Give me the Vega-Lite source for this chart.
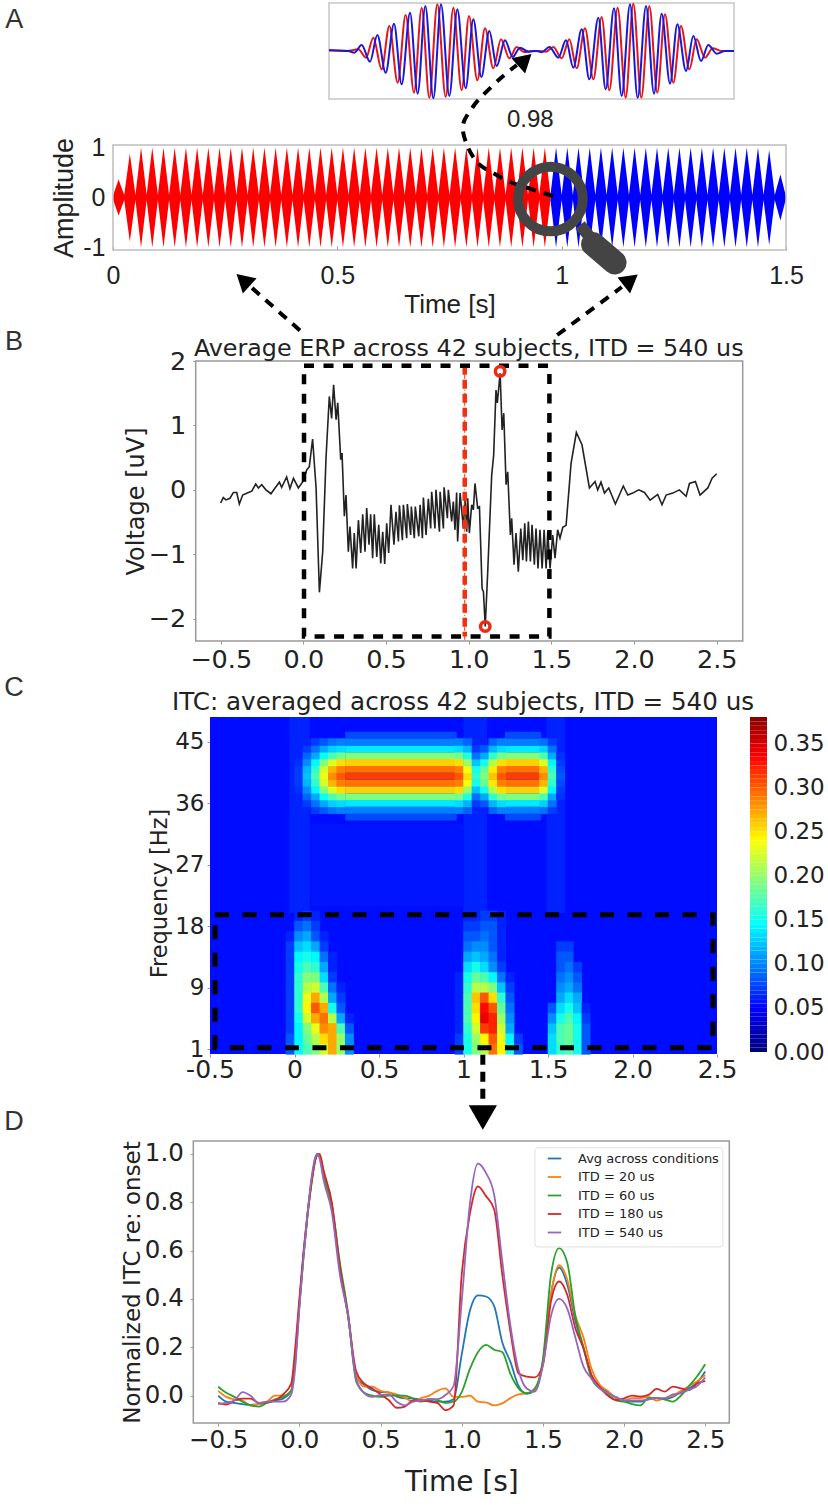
{"$schema":"https://vega.github.io/schema/vega-lite/v6.json","width":828,"height":1508,"autosize":{"type":"none"},"padding":0,"background":"white",
"config":{"view":{"stroke":null},"axis":{"grid":false,"domain":false,"labelFont":"DejaVu Sans","labelFontSize":22.5,"titleFont":"DejaVu Sans","titleFontSize":23,"titleFontWeight":"normal","labelColor":"#222","titleColor":"#222","tickColor":"#999","tickSize":3,"labelPadding":3,"labelOverlap":false,"labelFlush":false}},
"datasets":{
"insetRed":[{"t":27,"v":2},{"t":80,"v":0},{"t":115,"v":5},{"t":138,"v":-20},{"t":160,"v":40},{"t":185,"v":-55},{"t":208,"v":75},{"t":233,"v":-95},{"t":257,"v":108},{"t":282,"v":-125},{"t":305,"v":130},{"t":328,"v":-140},{"t":352,"v":140},{"t":377,"v":-138},{"t":400,"v":130},{"t":425,"v":-118},{"t":447,"v":105},{"t":472,"v":-88},{"t":495,"v":68},{"t":520,"v":-52},{"t":543,"v":35},{"t":568,"v":-22},{"t":590,"v":12},{"t":612,"v":-3},{"t":640,"v":0},{"t":655,"v":0},{"t":678,"v":-2},{"t":700,"v":12},{"t":725,"v":-22},{"t":748,"v":35},{"t":770,"v":-52},{"t":795,"v":68},{"t":820,"v":-85},{"t":845,"v":102},{"t":868,"v":-118},{"t":893,"v":130},{"t":917,"v":-140},{"t":940,"v":142},{"t":964,"v":-140},{"t":988,"v":135},{"t":1012,"v":-125},{"t":1035,"v":110},{"t":1060,"v":-95},{"t":1083,"v":75},{"t":1108,"v":-55},{"t":1130,"v":35},{"t":1155,"v":-20},{"t":1178,"v":8},{"t":1205,"v":0},{"t":1242,"v":0}],
"insetBlue":[{"t":27,"v":2},{"t":85,"v":0},{"t":103,"v":-5},{"t":125,"v":18},{"t":150,"v":-32},{"t":172,"v":48},{"t":197,"v":-65},{"t":222,"v":82},{"t":245,"v":-100},{"t":270,"v":115},{"t":293,"v":-128},{"t":316,"v":135},{"t":340,"v":-142},{"t":363,"v":140},{"t":388,"v":-135},{"t":412,"v":125},{"t":437,"v":-112},{"t":460,"v":95},{"t":484,"v":-78},{"t":508,"v":60},{"t":530,"v":-45},{"t":555,"v":32},{"t":578,"v":-18},{"t":600,"v":10},{"t":625,"v":-2},{"t":650,"v":0},{"t":665,"v":-4},{"t":688,"v":12},{"t":715,"v":-20},{"t":738,"v":32},{"t":760,"v":-50},{"t":785,"v":65},{"t":808,"v":-85},{"t":835,"v":100},{"t":857,"v":-115},{"t":882,"v":128},{"t":905,"v":-135},{"t":930,"v":140},{"t":953,"v":-140},{"t":978,"v":135},{"t":1002,"v":-128},{"t":1025,"v":112},{"t":1050,"v":-98},{"t":1072,"v":80},{"t":1098,"v":-60},{"t":1120,"v":45},{"t":1143,"v":-30},{"t":1165,"v":18},{"t":1190,"v":-8},{"t":1215,"v":0},{"t":1242,"v":0}],
"waveRed":[{"t":0,"v":0.04,"v2":-0.04},{"t":0.0125,"v":0.36,"v2":-0.36},{"t":0.025,"v":0.05,"v2":-0.05},{"t":0.0375,"v":0.88,"v2":-0.88},{"t":0.05,"v":0.05,"v2":-0.05},{"t":0.0625,"v":1,"v2":-1},{"t":0.075,"v":0.05,"v2":-0.05},{"t":0.0875,"v":1,"v2":-1},{"t":0.1,"v":0.05,"v2":-0.05},{"t":0.1125,"v":1,"v2":-1},{"t":0.125,"v":0.05,"v2":-0.05},{"t":0.1375,"v":1,"v2":-1},{"t":0.15,"v":0.05,"v2":-0.05},{"t":0.1625,"v":1,"v2":-1},{"t":0.175,"v":0.05,"v2":-0.05},{"t":0.1875,"v":1,"v2":-1},{"t":0.2,"v":0.05,"v2":-0.05},{"t":0.2125,"v":1,"v2":-1},{"t":0.225,"v":0.05,"v2":-0.05},{"t":0.2375,"v":1,"v2":-1},{"t":0.25,"v":0.05,"v2":-0.05},{"t":0.2625,"v":1,"v2":-1},{"t":0.275,"v":0.05,"v2":-0.05},{"t":0.2875,"v":1,"v2":-1},{"t":0.3,"v":0.05,"v2":-0.05},{"t":0.3125,"v":1,"v2":-1},{"t":0.325,"v":0.05,"v2":-0.05},{"t":0.3375,"v":1,"v2":-1},{"t":0.35,"v":0.05,"v2":-0.05},{"t":0.3625,"v":1,"v2":-1},{"t":0.375,"v":0.05,"v2":-0.05},{"t":0.3875,"v":1,"v2":-1},{"t":0.4,"v":0.05,"v2":-0.05},{"t":0.4125,"v":1,"v2":-1},{"t":0.425,"v":0.05,"v2":-0.05},{"t":0.4375,"v":1,"v2":-1},{"t":0.45,"v":0.05,"v2":-0.05},{"t":0.4625,"v":1,"v2":-1},{"t":0.475,"v":0.05,"v2":-0.05},{"t":0.4875,"v":1,"v2":-1},{"t":0.5,"v":0.05,"v2":-0.05},{"t":0.5125,"v":1,"v2":-1},{"t":0.525,"v":0.05,"v2":-0.05},{"t":0.5375,"v":1,"v2":-1},{"t":0.55,"v":0.05,"v2":-0.05},{"t":0.5625,"v":1,"v2":-1},{"t":0.575,"v":0.05,"v2":-0.05},{"t":0.5875,"v":1,"v2":-1},{"t":0.6,"v":0.05,"v2":-0.05},{"t":0.6125,"v":1,"v2":-1},{"t":0.625,"v":0.05,"v2":-0.05},{"t":0.6375,"v":1,"v2":-1},{"t":0.65,"v":0.05,"v2":-0.05},{"t":0.6625,"v":1,"v2":-1},{"t":0.675,"v":0.05,"v2":-0.05},{"t":0.6875,"v":1,"v2":-1},{"t":0.7,"v":0.05,"v2":-0.05},{"t":0.7125,"v":1,"v2":-1},{"t":0.725,"v":0.05,"v2":-0.05},{"t":0.7375,"v":1,"v2":-1},{"t":0.75,"v":0.05,"v2":-0.05},{"t":0.7625,"v":1,"v2":-1},{"t":0.775,"v":0.05,"v2":-0.05},{"t":0.7875,"v":1,"v2":-1},{"t":0.8,"v":0.05,"v2":-0.05},{"t":0.8125,"v":1,"v2":-1},{"t":0.825,"v":0.05,"v2":-0.05},{"t":0.8375,"v":1,"v2":-1},{"t":0.85,"v":0.05,"v2":-0.05},{"t":0.8625,"v":1,"v2":-1},{"t":0.875,"v":0.05,"v2":-0.05},{"t":0.8875,"v":1,"v2":-1},{"t":0.9,"v":0.05,"v2":-0.05},{"t":0.9125,"v":1,"v2":-1},{"t":0.925,"v":0.05,"v2":-0.05},{"t":0.9375,"v":1,"v2":-1},{"t":0.95,"v":0.05,"v2":-0.05},{"t":0.9625,"v":1,"v2":-1},{"t":0.975,"v":0.05,"v2":-0.05}],
"waveBlue":[{"t":0.975,"v":0.05,"v2":-0.05},{"t":0.9875,"v":1,"v2":-1},{"t":1,"v":0.05,"v2":-0.05},{"t":1.0125,"v":1,"v2":-1},{"t":1.025,"v":0.05,"v2":-0.05},{"t":1.0375,"v":1,"v2":-1},{"t":1.05,"v":0.05,"v2":-0.05},{"t":1.0625,"v":1,"v2":-1},{"t":1.075,"v":0.05,"v2":-0.05},{"t":1.0875,"v":1,"v2":-1},{"t":1.1,"v":0.05,"v2":-0.05},{"t":1.1125,"v":1,"v2":-1},{"t":1.125,"v":0.05,"v2":-0.05},{"t":1.1375,"v":1,"v2":-1},{"t":1.15,"v":0.05,"v2":-0.05},{"t":1.1625,"v":1,"v2":-1},{"t":1.175,"v":0.05,"v2":-0.05},{"t":1.1875,"v":1,"v2":-1},{"t":1.2,"v":0.05,"v2":-0.05},{"t":1.2125,"v":1,"v2":-1},{"t":1.225,"v":0.05,"v2":-0.05},{"t":1.2375,"v":1,"v2":-1},{"t":1.25,"v":0.05,"v2":-0.05},{"t":1.2625,"v":1,"v2":-1},{"t":1.275,"v":0.05,"v2":-0.05},{"t":1.2875,"v":1,"v2":-1},{"t":1.3,"v":0.05,"v2":-0.05},{"t":1.3125,"v":1,"v2":-1},{"t":1.325,"v":0.05,"v2":-0.05},{"t":1.3375,"v":1,"v2":-1},{"t":1.35,"v":0.05,"v2":-0.05},{"t":1.3625,"v":1,"v2":-1},{"t":1.375,"v":0.05,"v2":-0.05},{"t":1.3875,"v":1,"v2":-1},{"t":1.4,"v":0.05,"v2":-0.05},{"t":1.4125,"v":1,"v2":-1},{"t":1.425,"v":0.05,"v2":-0.05},{"t":1.4375,"v":1,"v2":-1},{"t":1.45,"v":0.05,"v2":-0.05},{"t":1.4625,"v":0.95,"v2":-0.95},{"t":1.475,"v":0.05,"v2":-0.05},{"t":1.4875,"v":0.46,"v2":-0.46},{"t":1.5,"v":0.02,"v2":-0.02}],
"erp":[{"t":-0.5,"v":-0.2},{"t":-0.484,"v":-0.12},{"t":-0.468,"v":-0.155},{"t":-0.444,"v":-0.13},{"t":-0.423,"v":-0.04},{"t":-0.403,"v":-0.04},{"t":-0.387,"v":-0.22},{"t":-0.367,"v":-0.08},{"t":-0.339,"v":-0.05},{"t":-0.312,"v":-0.02},{"t":-0.288,"v":0.09},{"t":-0.272,"v":0.03},{"t":-0.252,"v":0.08},{"t":-0.226,"v":0},{"t":-0.196,"v":-0.06},{"t":-0.171,"v":0.03},{"t":-0.145,"v":0.12},{"t":-0.131,"v":0.04},{"t":-0.101,"v":0.2},{"t":-0.081,"v":0.02},{"t":-0.06,"v":0.18},{"t":-0.03,"v":0.03},{"t":0,"v":0.14},{"t":0.02,"v":0.31},{"t":0.036,"v":0.36},{"t":0.056,"v":0.79},{"t":0.077,"v":0.03},{"t":0.097,"v":-1.59},{"t":0.117,"v":-0.96},{"t":0.137,"v":0.49},{"t":0.157,"v":1.45},{"t":0.171,"v":1.11},{"t":0.183,"v":1.63},{"t":0.198,"v":1.09},{"t":0.208,"v":1.35},{"t":0.226,"v":0.47},{"t":0.234,"v":0.57},{"t":0.248,"v":-0.41},{"t":0.258,"v":-0.08},{"t":0.272,"v":-0.96},{"t":0.282,"v":-0.57},{"t":0.298,"v":-1.22},{"t":0.308,"v":-0.67},{"t":0.319,"v":-1.22},{"t":0.333,"v":-0.47},{"t":0.347,"v":-0.98},{"t":0.359,"v":-0.38},{"t":0.373,"v":-0.96},{"t":0.383,"v":-0.28},{"t":0.397,"v":-0.85},{"t":0.407,"v":-0.38},{"t":0.419,"v":-1.06},{"t":0.429,"v":-0.38},{"t":0.444,"v":-1.04},{"t":0.456,"v":-0.54},{"t":0.468,"v":-1.14},{"t":0.48,"v":-0.65},{"t":0.492,"v":-1.15},{"t":0.504,"v":-0.52},{"t":0.516,"v":-0.98},{"t":0.53,"v":-0.23},{"t":0.548,"v":-0.85},{"t":0.56,"v":-0.34},{"t":0.575,"v":-0.8},{"t":0.581,"v":-0.24},{"t":0.599,"v":-0.78},{"t":0.605,"v":-0.23},{"t":0.625,"v":-0.75},{"t":0.629,"v":-0.22},{"t":0.649,"v":-0.7},{"t":0.653,"v":-0.26},{"t":0.671,"v":-0.75},{"t":0.677,"v":-0.26},{"t":0.698,"v":-0.72},{"t":0.706,"v":-0.23},{"t":0.72,"v":-0.75},{"t":0.726,"v":-0.12},{"t":0.742,"v":-0.7},{"t":0.756,"v":-0.14},{"t":0.77,"v":-0.6},{"t":0.776,"v":-0.03},{"t":0.796,"v":-0.6},{"t":0.802,"v":0},{"t":0.823,"v":-0.65},{"t":0.827,"v":-0.03},{"t":0.847,"v":-0.6},{"t":0.851,"v":0.04},{"t":0.871,"v":-0.44},{"t":0.877,"v":0},{"t":0.897,"v":-0.49},{"t":0.907,"v":-0.18},{"t":0.917,"v":-0.62},{"t":0.927,"v":-0.04},{"t":0.933,"v":-0.8},{"t":0.948,"v":-0.05},{"t":0.968,"v":-0.6},{"t":0.978,"v":-0.1},{"t":0.988,"v":-0.65},{"t":0.994,"v":-0.13},{"t":1.004,"v":-0.67},{"t":1.018,"v":-0.23},{"t":1.028,"v":-0.31},{"t":1.038,"v":0.1},{"t":1.054,"v":-0.28},{"t":1.065,"v":-0.26},{"t":1.081,"v":-1.53},{"t":1.089,"v":-1.58},{"t":1.1,"v":-2.12},{"t":1.115,"v":-1.27},{"t":1.139,"v":0.23},{"t":1.151,"v":0.54},{"t":1.165,"v":1.55},{"t":1.173,"v":1.35},{"t":1.19,"v":1.81},{"t":1.202,"v":0.93},{"t":1.212,"v":1.19},{"t":1.226,"v":0.08},{"t":1.236,"v":0.28},{"t":1.252,"v":-0.7},{"t":1.26,"v":-0.44},{"t":1.274,"v":-1.16},{"t":1.286,"v":-0.67},{"t":1.3,"v":-1.27},{"t":1.315,"v":-0.6},{"t":1.327,"v":-1.09},{"t":1.339,"v":-0.52},{"t":1.349,"v":-1.11},{"t":1.361,"v":-0.49},{"t":1.373,"v":-1.11},{"t":1.383,"v":-0.54},{"t":1.397,"v":-1.16},{"t":1.407,"v":-0.6},{"t":1.419,"v":-1.22},{"t":1.431,"v":-0.62},{"t":1.444,"v":-1.22},{"t":1.456,"v":-0.62},{"t":1.468,"v":-1.22},{"t":1.478,"v":-0.65},{"t":1.492,"v":-1.22},{"t":1.508,"v":-0.7},{"t":1.522,"v":-1.06},{"t":1.538,"v":-0.62},{"t":1.552,"v":-0.75},{"t":1.569,"v":-0.58},{"t":1.589,"v":-0.55},{"t":1.619,"v":0.41},{"t":1.651,"v":0.89},{"t":1.685,"v":0.7},{"t":1.73,"v":0.03},{"t":1.764,"v":0.13},{"t":1.78,"v":0},{"t":1.8,"v":0.12},{"t":1.821,"v":-0.05},{"t":1.847,"v":0.03},{"t":1.887,"v":-0.22},{"t":1.935,"v":0.06},{"t":1.962,"v":-0.08},{"t":1.992,"v":-0.05},{"t":2.028,"v":0},{"t":2.063,"v":-0.04},{"t":2.097,"v":-0.16},{"t":2.143,"v":-0.07},{"t":2.169,"v":-0.23},{"t":2.194,"v":-0.08},{"t":2.234,"v":-0.05},{"t":2.274,"v":0},{"t":2.315,"v":-0.1},{"t":2.335,"v":0.1},{"t":2.371,"v":0.13},{"t":2.399,"v":-0.08},{"t":2.446,"v":0.03},{"t":2.472,"v":0.18},{"t":2.5,"v":0.25}],
"heatStrips":[{"t":-0.5,"t2":2.5,"f":-0.7,"f2":48.66,"c":0.052},{"t":-0.03,"t2":0.09,"f":20,"f2":48.66,"c":0.06},{"t":1,"t2":1.14,"f":20,"f2":48.66,"c":0.06},{"t":1.49,"t2":1.6,"f":20,"f2":48.66,"c":0.06},{"t":0.1,"t2":1,"f":21,"f2":33,"c":0.055},{"t":0.3,"t2":0.96,"f":33.5,"f2":34.5,"c":0.075},{"t":0.3,"t2":0.96,"f":34.5,"f2":35.5,"c":0.095},{"t":0.3,"t2":0.96,"f":35.5,"f2":36.5,"c":0.135},{"t":0.3,"t2":0.96,"f":36.5,"f2":37.5,"c":0.19},{"t":0.3,"t2":0.96,"f":37.5,"f2":38.5,"c":0.255},{"t":0.3,"t2":0.96,"f":38.5,"f2":39.5,"c":0.29},{"t":0.3,"t2":0.96,"f":39.5,"f2":40.5,"c":0.31},{"t":0.3,"t2":0.96,"f":40.5,"f2":41.5,"c":0.29},{"t":0.3,"t2":0.96,"f":41.5,"f2":42.5,"c":0.255},{"t":0.3,"t2":0.96,"f":42.5,"f2":43.5,"c":0.19},{"t":0.3,"t2":0.96,"f":43.5,"f2":44.5,"c":0.135},{"t":0.3,"t2":0.96,"f":44.5,"f2":45.5,"c":0.095},{"t":0.3,"t2":0.96,"f":45.5,"f2":46.5,"c":0.075},{"t":1.245,"t2":1.46,"f":33.5,"f2":34.5,"c":0.075},{"t":1.245,"t2":1.46,"f":34.5,"f2":35.5,"c":0.095},{"t":1.245,"t2":1.46,"f":35.5,"f2":36.5,"c":0.135},{"t":1.245,"t2":1.46,"f":36.5,"f2":37.5,"c":0.19},{"t":1.245,"t2":1.46,"f":37.5,"f2":38.5,"c":0.255},{"t":1.245,"t2":1.46,"f":38.5,"f2":39.5,"c":0.29},{"t":1.245,"t2":1.46,"f":39.5,"f2":40.5,"c":0.31},{"t":1.245,"t2":1.46,"f":40.5,"f2":41.5,"c":0.29},{"t":1.245,"t2":1.46,"f":41.5,"f2":42.5,"c":0.255},{"t":1.245,"t2":1.46,"f":42.5,"f2":43.5,"c":0.19},{"t":1.245,"t2":1.46,"f":43.5,"f2":44.5,"c":0.135},{"t":1.245,"t2":1.46,"f":44.5,"f2":45.5,"c":0.095},{"t":1.245,"t2":1.46,"f":45.5,"f2":46.5,"c":0.075}],
"bandCells":[{"t":0.025,"f":37,"c":0.06},{"t":0.025,"f":38,"c":0.065},{"t":0.025,"f":39,"c":0.07},{"t":0.025,"f":40,"c":0.07},{"t":0.025,"f":41,"c":0.07},{"t":0.025,"f":42,"c":0.065},{"t":0.025,"f":43,"c":0.06},
{"t":0.075,"f":35,"c":0.06},{"t":0.075,"f":36,"c":0.07},{"t":0.075,"f":37,"c":0.085},{"t":0.075,"f":38,"c":0.1},{"t":0.075,"f":39,"c":0.115},{"t":0.075,"f":40,"c":0.12},{"t":0.075,"f":41,"c":0.115},{"t":0.075,"f":42,"c":0.1},{"t":0.075,"f":43,"c":0.085},{"t":0.075,"f":44,"c":0.07},{"t":0.075,"f":45,"c":0.06},
{"t":0.125,"f":35,"c":0.07},{"t":0.125,"f":36,"c":0.09},{"t":0.125,"f":37,"c":0.11},{"t":0.125,"f":38,"c":0.14},{"t":0.125,"f":39,"c":0.16},{"t":0.125,"f":40,"c":0.17},{"t":0.125,"f":41,"c":0.16},{"t":0.125,"f":42,"c":0.14},{"t":0.125,"f":43,"c":0.11},{"t":0.125,"f":44,"c":0.09},{"t":0.125,"f":45,"c":0.07},
{"t":0.175,"f":35,"c":0.08},{"t":0.175,"f":36,"c":0.11},{"t":0.175,"f":37,"c":0.145},{"t":0.175,"f":38,"c":0.19},{"t":0.175,"f":39,"c":0.22},{"t":0.175,"f":40,"c":0.23},{"t":0.175,"f":41,"c":0.22},{"t":0.175,"f":42,"c":0.19},{"t":0.175,"f":43,"c":0.145},{"t":0.175,"f":44,"c":0.11},{"t":0.175,"f":45,"c":0.08},
{"t":0.225,"f":35,"c":0.09},{"t":0.225,"f":36,"c":0.125},{"t":0.225,"f":37,"c":0.17},{"t":0.225,"f":38,"c":0.225},{"t":0.225,"f":39,"c":0.265},{"t":0.225,"f":40,"c":0.28},{"t":0.225,"f":41,"c":0.265},{"t":0.225,"f":42,"c":0.225},{"t":0.225,"f":43,"c":0.17},{"t":0.225,"f":44,"c":0.125},{"t":0.225,"f":45,"c":0.09},
{"t":0.275,"f":35,"c":0.095},{"t":0.275,"f":36,"c":0.13},{"t":0.275,"f":37,"c":0.185},{"t":0.275,"f":38,"c":0.25},{"t":0.275,"f":39,"c":0.285},{"t":0.275,"f":40,"c":0.3},{"t":0.275,"f":41,"c":0.285},{"t":0.275,"f":42,"c":0.25},{"t":0.275,"f":43,"c":0.185},{"t":0.275,"f":44,"c":0.13},{"t":0.275,"f":45,"c":0.095},
{"t":0.975,"f":35,"c":0.095},{"t":0.975,"f":36,"c":0.13},{"t":0.975,"f":37,"c":0.185},{"t":0.975,"f":38,"c":0.25},{"t":0.975,"f":39,"c":0.285},{"t":0.975,"f":40,"c":0.3},{"t":0.975,"f":41,"c":0.285},{"t":0.975,"f":42,"c":0.25},{"t":0.975,"f":43,"c":0.185},{"t":0.975,"f":44,"c":0.13},{"t":0.975,"f":45,"c":0.095},
{"t":1.025,"f":35,"c":0.085},{"t":1.025,"f":36,"c":0.115},{"t":1.025,"f":37,"c":0.155},{"t":1.025,"f":38,"c":0.2},{"t":1.025,"f":39,"c":0.235},{"t":1.025,"f":40,"c":0.25},{"t":1.025,"f":41,"c":0.235},{"t":1.025,"f":42,"c":0.2},{"t":1.025,"f":43,"c":0.155},{"t":1.025,"f":44,"c":0.115},{"t":1.025,"f":45,"c":0.085},
{"t":1.075,"f":36,"c":0.07},{"t":1.075,"f":37,"c":0.09},{"t":1.075,"f":38,"c":0.12},{"t":1.075,"f":39,"c":0.15},{"t":1.075,"f":40,"c":0.16},{"t":1.075,"f":41,"c":0.15},{"t":1.075,"f":42,"c":0.12},{"t":1.075,"f":43,"c":0.09},{"t":1.075,"f":44,"c":0.07},
{"t":1.125,"f":36,"c":0.08},{"t":1.125,"f":37,"c":0.11},{"t":1.125,"f":38,"c":0.15},{"t":1.125,"f":39,"c":0.18},{"t":1.125,"f":40,"c":0.19},{"t":1.125,"f":41,"c":0.18},{"t":1.125,"f":42,"c":0.15},{"t":1.125,"f":43,"c":0.11},{"t":1.125,"f":44,"c":0.08},
{"t":1.175,"f":35,"c":0.085},{"t":1.175,"f":36,"c":0.115},{"t":1.175,"f":37,"c":0.16},{"t":1.175,"f":38,"c":0.21},{"t":1.175,"f":39,"c":0.245},{"t":1.175,"f":40,"c":0.26},{"t":1.175,"f":41,"c":0.245},{"t":1.175,"f":42,"c":0.21},{"t":1.175,"f":43,"c":0.16},{"t":1.175,"f":44,"c":0.115},{"t":1.175,"f":45,"c":0.085},
{"t":1.225,"f":35,"c":0.095},{"t":1.225,"f":36,"c":0.13},{"t":1.225,"f":37,"c":0.185},{"t":1.225,"f":38,"c":0.25},{"t":1.225,"f":39,"c":0.285},{"t":1.225,"f":40,"c":0.3},{"t":1.225,"f":41,"c":0.285},{"t":1.225,"f":42,"c":0.25},{"t":1.225,"f":43,"c":0.185},{"t":1.225,"f":44,"c":0.13},{"t":1.225,"f":45,"c":0.095},
{"t":1.475,"f":35,"c":0.09},{"t":1.475,"f":36,"c":0.125},{"t":1.475,"f":37,"c":0.17},{"t":1.475,"f":38,"c":0.225},{"t":1.475,"f":39,"c":0.265},{"t":1.475,"f":40,"c":0.28},{"t":1.475,"f":41,"c":0.265},{"t":1.475,"f":42,"c":0.225},{"t":1.475,"f":43,"c":0.17},{"t":1.475,"f":44,"c":0.125},{"t":1.475,"f":45,"c":0.09},
{"t":1.525,"f":35,"c":0.07},{"t":1.525,"f":36,"c":0.09},{"t":1.525,"f":37,"c":0.11},{"t":1.525,"f":38,"c":0.14},{"t":1.525,"f":39,"c":0.16},{"t":1.525,"f":40,"c":0.17},{"t":1.525,"f":41,"c":0.16},{"t":1.525,"f":42,"c":0.14},{"t":1.525,"f":43,"c":0.11},{"t":1.525,"f":44,"c":0.09},{"t":1.525,"f":45,"c":0.07},
{"t":1.575,"f":37,"c":0.065},{"t":1.575,"f":38,"c":0.07},{"t":1.575,"f":39,"c":0.075},{"t":1.575,"f":40,"c":0.08},{"t":1.575,"f":41,"c":0.075},{"t":1.575,"f":42,"c":0.07},{"t":1.575,"f":43,"c":0.065}],
"blobCells":[{"t":0.025,"f":19.5,"c":0.06},{"t":0.075,"f":19.5,"c":0.07},{"t":0.125,"f":19.5,"c":0.06},{"t":0.025,"f":18,"c":0.08},{"t":0.075,"f":18,"c":0.09},{"t":0.125,"f":18,"c":0.07},{"t":-0.025,"f":16.5,"c":0.06},{"t":0.025,"f":16.5,"c":0.1},{"t":0.075,"f":16.5,"c":0.11},{"t":0.125,"f":16.5,"c":0.08},{"t":0.175,"f":16.5,"c":0.06},{"t":-0.025,"f":15,"c":0.07},{"t":0.025,"f":15,"c":0.12},{"t":0.075,"f":15,"c":0.13},{"t":0.125,"f":15,"c":0.11},{"t":0.175,"f":15,"c":0.07},{"t":-0.025,"f":13.5,"c":0.07},{"t":0.025,"f":13.5,"c":0.14},{"t":0.075,"f":13.5,"c":0.15},{"t":0.125,"f":13.5,"c":0.14},{"t":0.175,"f":13.5,"c":0.09},{"t":0.225,"f":13.5,"c":0.06},{"t":-0.025,"f":12,"c":0.07},{"t":0.025,"f":12,"c":0.15},{"t":0.075,"f":12,"c":0.17},{"t":0.125,"f":12,"c":0.16},{"t":0.175,"f":12,"c":0.11},{"t":0.225,"f":12,"c":0.06},{"t":-0.025,"f":10.5,"c":0.07},{"t":0.025,"f":10.5,"c":0.16},{"t":0.075,"f":10.5,"c":0.19},{"t":0.125,"f":10.5,"c":0.19},{"t":0.175,"f":10.5,"c":0.13},{"t":0.225,"f":10.5,"c":0.07},{"t":-0.025,"f":9,"c":0.07},{"t":0.025,"f":9,"c":0.16},{"t":0.075,"f":9,"c":0.21},{"t":0.125,"f":9,"c":0.22},{"t":0.175,"f":9,"c":0.17},{"t":0.225,"f":9,"c":0.09},{"t":0.275,"f":9,"c":0.06},{"t":-0.025,"f":7.5,"c":0.07},{"t":0.025,"f":7.5,"c":0.16},{"t":0.075,"f":7.5,"c":0.23},{"t":0.125,"f":7.5,"c":0.27},{"t":0.175,"f":7.5,"c":0.21},{"t":0.225,"f":7.5,"c":0.11},{"t":0.275,"f":7.5,"c":0.07},{"t":-0.025,"f":6,"c":0.07},{"t":0.025,"f":6,"c":0.16},{"t":0.075,"f":6,"c":0.24},{"t":0.125,"f":6,"c":0.3},{"t":0.175,"f":6,"c":0.27},{"t":0.225,"f":6,"c":0.15},{"t":0.275,"f":6,"c":0.08},{"t":-0.025,"f":4.5,"c":0.07},{"t":0.025,"f":4.5,"c":0.15},{"t":0.075,"f":4.5,"c":0.22},{"t":0.125,"f":4.5,"c":0.27},{"t":0.175,"f":4.5,"c":0.29},{"t":0.225,"f":4.5,"c":0.21},{"t":0.275,"f":4.5,"c":0.11},{"t":0.325,"f":4.5,"c":0.06},{"t":-0.025,"f":3,"c":0.07},{"t":0.025,"f":3,"c":0.14},{"t":0.075,"f":3,"c":0.19},{"t":0.125,"f":3,"c":0.23},{"t":0.175,"f":3,"c":0.28},{"t":0.225,"f":3,"c":0.27},{"t":0.275,"f":3,"c":0.17},{"t":0.325,"f":3,"c":0.08},{"t":-0.025,"f":1.5,"c":0.08},{"t":0.025,"f":1.5,"c":0.14},{"t":0.075,"f":1.5,"c":0.18},{"t":0.125,"f":1.5,"c":0.21},{"t":0.175,"f":1.5,"c":0.25},{"t":0.225,"f":1.5,"c":0.27},{"t":0.275,"f":1.5,"c":0.2},{"t":0.325,"f":1.5,"c":0.1},{"t":-0.025,"f":0,"c":0.08},{"t":0.025,"f":0,"c":0.14},{"t":0.075,"f":0,"c":0.17},{"t":0.125,"f":0,"c":0.19},{"t":0.175,"f":0,"c":0.22},{"t":0.225,"f":0,"c":0.27},{"t":0.275,"f":0,"c":0.2},{"t":0.325,"f":0,"c":0.1},
{"t":1.025,"f":19.5,"c":0.06},{"t":1.075,"f":19.5,"c":0.06},{"t":1.125,"f":19.5,"c":0.07},{"t":1.175,"f":19.5,"c":0.07},{"t":1.225,"f":19.5,"c":0.06},{"t":1.025,"f":18,"c":0.07},{"t":1.075,"f":18,"c":0.07},{"t":1.125,"f":18,"c":0.08},{"t":1.175,"f":18,"c":0.08},{"t":1.225,"f":18,"c":0.06},{"t":1.025,"f":16.5,"c":0.08},{"t":1.075,"f":16.5,"c":0.08},{"t":1.125,"f":16.5,"c":0.09},{"t":1.175,"f":16.5,"c":0.08},{"t":1.225,"f":16.5,"c":0.06},{"t":1.025,"f":15,"c":0.09},{"t":1.075,"f":15,"c":0.1},{"t":1.125,"f":15,"c":0.1},{"t":1.175,"f":15,"c":0.08},{"t":1.225,"f":15,"c":0.06},{"t":1.025,"f":13.5,"c":0.11},{"t":1.075,"f":13.5,"c":0.12},{"t":1.125,"f":13.5,"c":0.11},{"t":1.175,"f":13.5,"c":0.09},{"t":1.225,"f":13.5,"c":0.06},{"t":1.025,"f":12,"c":0.13},{"t":1.075,"f":12,"c":0.15},{"t":1.125,"f":12,"c":0.13},{"t":1.175,"f":12,"c":0.1},{"t":1.225,"f":12,"c":0.07},{"t":0.975,"f":10.5,"c":0.06},{"t":1.025,"f":10.5,"c":0.15},{"t":1.075,"f":10.5,"c":0.18},{"t":1.125,"f":10.5,"c":0.17},{"t":1.175,"f":10.5,"c":0.14},{"t":1.225,"f":10.5,"c":0.09},{"t":1.275,"f":10.5,"c":0.06},{"t":0.975,"f":9,"c":0.06},{"t":1.025,"f":9,"c":0.16},{"t":1.075,"f":9,"c":0.21},{"t":1.125,"f":9,"c":0.21},{"t":1.175,"f":9,"c":0.19},{"t":1.225,"f":9,"c":0.12},{"t":1.275,"f":9,"c":0.07},{"t":0.975,"f":7.5,"c":0.06},{"t":1.025,"f":7.5,"c":0.17},{"t":1.075,"f":7.5,"c":0.26},{"t":1.125,"f":7.5,"c":0.3},{"t":1.175,"f":7.5,"c":0.25},{"t":1.225,"f":7.5,"c":0.16},{"t":1.275,"f":7.5,"c":0.08},{"t":0.975,"f":6,"c":0.06},{"t":1.025,"f":6,"c":0.17},{"t":1.075,"f":6,"c":0.25},{"t":1.125,"f":6,"c":0.33},{"t":1.175,"f":6,"c":0.3},{"t":1.225,"f":6,"c":0.18},{"t":1.275,"f":6,"c":0.09},{"t":0.975,"f":4.5,"c":0.06},{"t":1.025,"f":4.5,"c":0.17},{"t":1.075,"f":4.5,"c":0.24},{"t":1.125,"f":4.5,"c":0.34},{"t":1.175,"f":4.5,"c":0.32},{"t":1.225,"f":4.5,"c":0.2},{"t":1.275,"f":4.5,"c":0.1},{"t":0.975,"f":3,"c":0.06},{"t":1.025,"f":3,"c":0.16},{"t":1.075,"f":3,"c":0.22},{"t":1.125,"f":3,"c":0.31},{"t":1.175,"f":3,"c":0.32},{"t":1.225,"f":3,"c":0.22},{"t":1.275,"f":3,"c":0.11},{"t":0.975,"f":1.5,"c":0.07},{"t":1.025,"f":1.5,"c":0.15},{"t":1.075,"f":1.5,"c":0.2},{"t":1.125,"f":1.5,"c":0.24},{"t":1.175,"f":1.5,"c":0.3},{"t":1.225,"f":1.5,"c":0.23},{"t":1.275,"f":1.5,"c":0.14},{"t":1.325,"f":1.5,"c":0.07},{"t":0.975,"f":0,"c":0.07},{"t":1.025,"f":0,"c":0.15},{"t":1.075,"f":0,"c":0.19},{"t":1.125,"f":0,"c":0.21},{"t":1.175,"f":0,"c":0.29},{"t":1.225,"f":0,"c":0.24},{"t":1.275,"f":0,"c":0.15},{"t":1.325,"f":0,"c":0.08},
{"t":1.575,"f":15,"c":0.07},{"t":1.625,"f":15,"c":0.07},{"t":1.575,"f":13.5,"c":0.08},{"t":1.625,"f":13.5,"c":0.08},{"t":1.575,"f":12,"c":0.08},{"t":1.625,"f":12,"c":0.09},{"t":1.675,"f":12,"c":0.07},{"t":1.575,"f":10.5,"c":0.09},{"t":1.625,"f":10.5,"c":0.1},{"t":1.675,"f":10.5,"c":0.08},{"t":1.575,"f":9,"c":0.1},{"t":1.625,"f":9,"c":0.11},{"t":1.675,"f":9,"c":0.09},{"t":1.575,"f":7.5,"c":0.11},{"t":1.625,"f":7.5,"c":0.13},{"t":1.675,"f":7.5,"c":0.11},{"t":1.525,"f":6,"c":0.08},{"t":1.575,"f":6,"c":0.13},{"t":1.625,"f":6,"c":0.15},{"t":1.675,"f":6,"c":0.12},{"t":1.725,"f":6,"c":0.06},{"t":1.525,"f":4.5,"c":0.1},{"t":1.575,"f":4.5,"c":0.15},{"t":1.625,"f":4.5,"c":0.17},{"t":1.675,"f":4.5,"c":0.14},{"t":1.725,"f":4.5,"c":0.07},{"t":1.525,"f":3,"c":0.12},{"t":1.575,"f":3,"c":0.17},{"t":1.625,"f":3,"c":0.18},{"t":1.675,"f":3,"c":0.15},{"t":1.725,"f":3,"c":0.08},{"t":1.525,"f":1.5,"c":0.13},{"t":1.575,"f":1.5,"c":0.17},{"t":1.625,"f":1.5,"c":0.18},{"t":1.675,"f":1.5,"c":0.15},{"t":1.725,"f":1.5,"c":0.08},{"t":1.525,"f":0,"c":0.13},{"t":1.575,"f":0,"c":0.16},{"t":1.625,"f":0,"c":0.17},{"t":1.675,"f":0,"c":0.15},{"t":1.725,"f":0,"c":0.08}],
"colorbar":[{"c":0,"c2":0.005},{"c":0.005,"c2":0.01},{"c":0.01,"c2":0.015},{"c":0.015,"c2":0.02},{"c":0.02,"c2":0.025},{"c":0.025,"c2":0.03},{"c":0.03,"c2":0.035},{"c":0.035,"c2":0.04},{"c":0.04,"c2":0.045},{"c":0.045,"c2":0.05},{"c":0.05,"c2":0.055},{"c":0.055,"c2":0.06},{"c":0.06,"c2":0.065},{"c":0.065,"c2":0.07},{"c":0.07,"c2":0.075},{"c":0.075,"c2":0.08},{"c":0.08,"c2":0.085},{"c":0.085,"c2":0.09},{"c":0.09,"c2":0.095},{"c":0.095,"c2":0.1},{"c":0.1,"c2":0.105},{"c":0.105,"c2":0.11},{"c":0.11,"c2":0.115},{"c":0.115,"c2":0.12},{"c":0.12,"c2":0.125},{"c":0.125,"c2":0.13},{"c":0.13,"c2":0.135},{"c":0.135,"c2":0.14},{"c":0.14,"c2":0.145},{"c":0.145,"c2":0.15},{"c":0.15,"c2":0.155},{"c":0.155,"c2":0.16},{"c":0.16,"c2":0.165},{"c":0.165,"c2":0.17},{"c":0.17,"c2":0.175},{"c":0.175,"c2":0.18},{"c":0.18,"c2":0.185},{"c":0.185,"c2":0.19},{"c":0.19,"c2":0.195},{"c":0.195,"c2":0.2},{"c":0.2,"c2":0.205},{"c":0.205,"c2":0.21},{"c":0.21,"c2":0.215},{"c":0.215,"c2":0.22},{"c":0.22,"c2":0.225},{"c":0.225,"c2":0.23},{"c":0.23,"c2":0.235},{"c":0.235,"c2":0.24},{"c":0.24,"c2":0.245},{"c":0.245,"c2":0.25},{"c":0.25,"c2":0.255},{"c":0.255,"c2":0.26},{"c":0.26,"c2":0.265},{"c":0.265,"c2":0.27},{"c":0.27,"c2":0.275},{"c":0.275,"c2":0.28},{"c":0.28,"c2":0.285},{"c":0.285,"c2":0.29},{"c":0.29,"c2":0.295},{"c":0.295,"c2":0.3},{"c":0.3,"c2":0.305},{"c":0.305,"c2":0.31},{"c":0.31,"c2":0.315},{"c":0.315,"c2":0.32},{"c":0.32,"c2":0.325},{"c":0.325,"c2":0.33},{"c":0.33,"c2":0.335},{"c":0.335,"c2":0.34},{"c":0.34,"c2":0.345},{"c":0.345,"c2":0.35},{"c":0.35,"c2":0.355},{"c":0.355,"c2":0.36},{"c":0.36,"c2":0.365},{"c":0.365,"c2":0.37},{"c":0.37,"c2":0.375},{"c":0.375,"c2":0.38}],
"itc":[{"t":-0.5,"avg":0,"itd20":0.02,"itd60":0.037,"itd180":-0.03,"itd540":-0.035},{"t":-0.45,"avg":-0.025,"itd20":-0.005,"itd60":0.012,"itd180":-0.037,"itd540":-0.03},{"t":-0.4,"avg":-0.03,"itd20":-0.015,"itd60":-0.005,"itd180":-0.02,"itd540":-0.02},{"t":-0.35,"avg":-0.035,"itd20":-0.02,"itd60":-0.025,"itd180":-0.012,"itd540":0.015},{"t":-0.3,"avg":-0.038,"itd20":-0.04,"itd60":-0.04,"itd180":-0.012,"itd540":0},{"t":-0.25,"avg":-0.035,"itd20":-0.035,"itd60":-0.045,"itd180":-0.03,"itd540":-0.03},{"t":-0.2,"avg":-0.03,"itd20":-0.025,"itd60":-0.03,"itd180":-0.028,"itd540":-0.025},{"t":-0.15,"avg":-0.02,"itd20":0,"itd60":-0.015,"itd180":-0.02,"itd540":-0.025},{"t":-0.1,"avg":-0.012,"itd20":0,"itd60":-0.005,"itd180":0.005,"itd540":-0.025},{"t":-0.05,"avg":0.02,"itd20":0.02,"itd60":0.02,"itd180":0.05,"itd540":0.005},{"t":-0.025,"avg":0.16,"itd20":0.14,"itd60":0.15,"itd180":0.2,"itd540":0.12},{"t":0,"avg":0.38,"itd20":0.37,"itd60":0.37,"itd180":0.4,"itd540":0.36},{"t":0.025,"avg":0.58,"itd20":0.57,"itd60":0.57,"itd180":0.59,"itd540":0.57},{"t":0.05,"avg":0.75,"itd20":0.74,"itd60":0.74,"itd180":0.75,"itd540":0.75},{"t":0.075,"avg":0.89,"itd20":0.88,"itd60":0.88,"itd180":0.88,"itd540":0.9},{"t":0.1,"avg":0.985,"itd20":0.98,"itd60":0.98,"itd180":0.98,"itd540":0.99},{"t":0.112,"avg":1,"itd20":1,"itd60":1,"itd180":0.995,"itd540":1},{"t":0.125,"avg":0.99,"itd20":0.995,"itd60":0.995,"itd180":1,"itd540":0.98},{"t":0.15,"avg":0.91,"itd20":0.92,"itd60":0.91,"itd180":0.93,"itd540":0.89},{"t":0.2,"avg":0.78,"itd20":0.78,"itd60":0.79,"itd180":0.8,"itd540":0.76},{"t":0.25,"avg":0.52,"itd20":0.53,"itd60":0.55,"itd180":0.53,"itd540":0.5},{"t":0.3,"avg":0.33,"itd20":0.34,"itd60":0.34,"itd180":0.33,"itd540":0.33},{"t":0.35,"avg":0.08,"itd20":0.09,"itd60":0.06,"itd180":0.1,"itd540":0.07},{"t":0.4,"avg":0.045,"itd20":0.037,"itd60":0.012,"itd180":0.05,"itd540":0.01},{"t":0.45,"avg":0.023,"itd20":0.037,"itd60":0,"itd180":0.03,"itd540":-0.005},{"t":0.5,"avg":0.015,"itd20":0.02,"itd60":-0.005,"itd180":0.005,"itd540":0.003},{"t":0.55,"avg":0.014,"itd20":0.014,"itd60":0,"itd180":-0.018,"itd540":0.005},{"t":0.6,"avg":-0.004,"itd20":0.005,"itd60":0,"itd180":-0.05,"itd540":-0.025},{"t":0.65,"avg":-0.011,"itd20":-0.008,"itd60":0,"itd180":-0.045,"itd540":-0.04},{"t":0.7,"avg":-0.011,"itd20":-0.025,"itd60":-0.012,"itd180":-0.02,"itd540":-0.025},{"t":0.75,"avg":-0.018,"itd20":-0.01,"itd60":-0.025,"itd180":-0.02,"itd540":-0.02},{"t":0.8,"avg":-0.02,"itd20":0,"itd60":-0.014,"itd180":-0.025,"itd540":-0.014},{"t":0.85,"avg":-0.025,"itd20":0.02,"itd60":-0.018,"itd180":-0.03,"itd540":-0.014},{"t":0.9,"avg":-0.025,"itd20":0.03,"itd60":-0.03,"itd180":-0.06,"itd540":0.003},{"t":0.95,"avg":-0.015,"itd20":-0.005,"itd60":-0.025,"itd180":-0.04,"itd540":0.04},{"t":1,"avg":0.17,"itd20":-0.005,"itd60":0.015,"itd180":0.5,"itd540":0.39},{"t":1.05,"avg":0.35,"itd20":0,"itd60":0.11,"itd180":0.75,"itd540":0.79},{"t":1.1,"avg":0.415,"itd20":-0.025,"itd60":0.18,"itd180":0.865,"itd540":0.96},{"t":1.15,"avg":0.41,"itd20":-0.028,"itd60":0.21,"itd180":0.825,"itd540":0.92},{"t":1.2,"avg":0.37,"itd20":-0.04,"itd60":0.19,"itd180":0.77,"itd540":0.83},{"t":1.25,"avg":0.22,"itd20":-0.032,"itd60":0.18,"itd180":0.5,"itd540":0.555},{"t":1.3,"avg":0.14,"itd20":-0.01,"itd60":0.09,"itd180":0.265,"itd540":0.29},{"t":1.35,"avg":0.04,"itd20":0.005,"itd60":0.03,"itd180":0.092,"itd540":0.106},{"t":1.4,"avg":0.008,"itd20":0.01,"itd60":0.01,"itd180":0.079,"itd540":0.03},{"t":1.45,"avg":0.02,"itd20":0.022,"itd60":0.03,"itd180":0.076,"itd540":0.017},{"t":1.5,"avg":0.14,"itd20":0.13,"itd60":0.15,"itd180":0.127,"itd540":0.127},{"t":1.55,"avg":0.42,"itd20":0.42,"itd60":0.5,"itd180":0.39,"itd540":0.33},{"t":1.6,"avg":0.53,"itd20":0.54,"itd60":0.61,"itd180":0.472,"itd540":0.4},{"t":1.65,"avg":0.46,"itd20":0.48,"itd60":0.55,"itd180":0.417,"itd540":0.36},{"t":1.7,"avg":0.31,"itd20":0.33,"itd60":0.33,"itd180":0.279,"itd540":0.24},{"t":1.75,"avg":0.196,"itd20":0.24,"itd60":0.2,"itd180":0.196,"itd540":0.12},{"t":1.8,"avg":0.08,"itd20":0.11,"itd60":0.07,"itd180":0.085,"itd540":0.07},{"t":1.85,"avg":0.035,"itd20":0.045,"itd60":0.03,"itd180":0.037,"itd540":0.03},{"t":1.9,"avg":0.015,"itd20":0.02,"itd60":0.005,"itd180":0,"itd540":0.01},{"t":1.95,"avg":-0.01,"itd20":-0.01,"itd60":-0.02,"itd180":-0.018,"itd540":-0.005},{"t":2,"avg":-0.02,"itd20":-0.02,"itd60":-0.025,"itd180":-0.011,"itd540":-0.02},{"t":2.05,"avg":-0.025,"itd20":-0.01,"itd60":-0.035,"itd180":0,"itd540":-0.02},{"t":2.1,"avg":-0.025,"itd20":-0.01,"itd60":-0.04,"itd180":-0.004,"itd540":-0.02},{"t":2.15,"avg":-0.015,"itd20":-0.005,"itd60":-0.01,"itd180":0.003,"itd540":-0.015},{"t":2.2,"avg":-0.01,"itd20":-0.02,"itd60":-0.01,"itd180":0.028,"itd540":-0.01},{"t":2.25,"avg":-0.015,"itd20":-0.01,"itd60":-0.015,"itd180":0.017,"itd540":-0.01},{"t":2.3,"avg":-0.005,"itd20":0,"itd60":-0.025,"itd180":0.037,"itd540":0.005},{"t":2.35,"avg":0.015,"itd20":0.02,"itd60":0,"itd180":0.03,"itd540":0.01},{"t":2.4,"avg":0.03,"itd20":0.04,"itd60":0.04,"itd180":0.023,"itd540":0.025},{"t":2.45,"avg":0.055,"itd20":0.06,"itd60":0.08,"itd180":0.05,"itd540":0.04},{"t":2.5,"avg":0.1,"itd20":0.085,"itd60":0.13,"itd180":0.06,"itd540":0.075}]
},
"layer":[
{"encoding":{"x":{"field":"t","type":"quantitative","scale":{"domain":[27,1242],"range":[329,734]},"axis":null},"y":{"field":"v","type":"quantitative","stack":null,"scale":{"domain":[-144,144],"range":[99,3]},"axis":null}},
"layer":[
{"data":{"values":[{"t":27,"t2":1242,"v":-144,"v2":144}]},"mark":{"type":"rect","fill":"white","stroke":"#c6c6c6","strokeWidth":1.5},"encoding":{"x2":{"field":"t2"},"y2":{"field":"v2"}}},
{"data":{"name":"insetRed"},"mark":{"type":"line","color":"#e5151c","strokeWidth":2,"interpolate":"monotone"}},
{"data":{"name":"insetBlue"},"mark":{"type":"line","color":"#1818d8","strokeWidth":2,"interpolate":"monotone"}}
]},
{"encoding":{"x":{"field":"t","type":"quantitative","scale":{"domain":[0,1.5],"range":[113,786]},"axis":{"orient":"bottom","offset":-1258,"values":[0,0.5,1,1.5],"labelExpr":"''+datum.value","title":"Time [s]","labelFont":"Liberation Sans","labelFontSize":25,"titleFont":"Liberation Sans","titleFontSize":26,"tickSize":-4,"labelPadding":17,"titlePadding":3}},"y":{"field":"v","type":"quantitative","stack":null,"scale":{"domain":[-1.05,1.05],"range":[250,145]},"axis":{"orient":"left","offset":-113,"values":[-1,0,1],"labelExpr":"''+datum.value","title":"Amplitude","labelFont":"Liberation Sans","labelFontSize":25,"titleFont":"Liberation Sans","titleFontSize":27,"tickSize":0,"labelPadding":8,"titlePadding":4}}},
"layer":[
{"data":{"name":"waveRed"},"mark":{"type":"area","color":"#ff0000"},"encoding":{"y2":{"field":"v2"}}},
{"data":{"name":"waveBlue"},"mark":{"type":"area","color":"#0000ff"},"encoding":{"y2":{"field":"v2"}}},
{"data":{"values":[{"t":0,"t2":1.5,"v":-1.05,"v2":1.05}]},"mark":{"type":"rect","fillOpacity":0,"stroke":"#bdbdbd","strokeWidth":1.5},"encoding":{"x2":{"field":"t2"},"y2":{"field":"v2"}}},
{"data":{"values":[{"t":0.981,"v":0.03,"i":1},{"t":0.925,"v":0.19,"i":2},{"t":0.885,"v":0.31,"i":3},{"t":0.847,"v":0.49,"i":4},{"t":0.813,"v":0.69,"i":5},{"t":0.789,"v":1.05,"i":6},{"t":0.78,"v":1.45,"i":7},{"t":0.802,"v":1.81,"i":8},{"t":0.825,"v":2.05,"i":9},{"t":0.867,"v":2.41,"i":10},{"t":0.9,"v":2.65,"i":11}]},"mark":{"type":"line","color":"black","strokeWidth":4,"strokeDash":[10,8],"interpolate":"cardinal"},"encoding":{"order":{"field":"i"}}},
{"data":{"values":[{"t":0.428,"v":-2.75},{"t":0.31,"v":-1.81}]},"mark":{"type":"line","color":"black","strokeWidth":4,"strokeDash":[10,8]}},
{"data":{"values":[{"t":0.99,"v":-2.75},{"t":1.134,"v":-1.79}]},"mark":{"type":"line","color":"black","strokeWidth":4,"strokeDash":[10,8]}},
{"data":{"values":[{"t":0.918,"v":2.75,"a":48},{"t":0.29,"v":-1.65,"a":-48},{"t":1.154,"v":-1.65,"a":52}]},"mark":{"type":"point","shape":"triangle-up","filled":true,"color":"black","opacity":1,"size":420},"encoding":{"angle":{"field":"a","type":"quantitative","scale":null}}},
{"data":{"values":[{"t":0.975,"v":-0.03}]},"mark":{"type":"point","filled":false,"shape":"circle","stroke":"#444444","strokeWidth":10,"opacity":1,"size":4185}},
{"data":{"values":[{"t":1.041,"v":-0.55},{"t":1.068,"v":-0.85}]},"mark":{"type":"line","color":"#444444","strokeWidth":12}},
{"data":{"values":[{"t":1.07,"v":-0.93},{"t":1.118,"v":-1.3}]},"mark":{"type":"line","color":"#444444","strokeWidth":24,"strokeCap":"round"}},
{"data":{"values":[{"t":0.93,"v":1.55,"label":"0.98"}]},"mark":{"type":"text","font":"Liberation Sans","fontSize":24,"color":"#222"},"encoding":{"text":{"field":"label"}}},
{"data":{"values":[{"t":-0.22,"v":3.55,"label":"A"}]},"mark":{"type":"text","font":"Liberation Sans","fontSize":27,"color":"#333"},"encoding":{"text":{"field":"label"}}}
]},
{"encoding":{"x":{"field":"t","type":"quantitative","scale":{"domain":[-0.651,2.657],"range":[195.7,742.7]},"axis":{"orient":"bottom","offset":-867,"values":[-0.5,0,0.5,1,1.5,2,2.5],"format":".1f","title":null,"labelFontSize":25.5}},"y":{"field":"v","type":"quantitative","stack":null,"scale":{"domain":[-2.345,2],"range":[641,361]},"axis":{"orient":"left","offset":-195.7,"values":[-2,-1,0,1,2],"format":"d","title":"Voltage [uV]","labelFontSize":25.5,"labelPadding":7,"titleFontSize":24,"titlePadding":0}}},
"layer":[
{"data":{"values":[{"t":-0.651,"t2":2.657,"v":-2.345,"v2":2}]},"mark":{"type":"rect","fillOpacity":0,"stroke":"#999999","strokeWidth":1.5},"encoding":{"x2":{"field":"t2"},"y2":{"field":"v2"}}},
{"data":{"name":"erp"},"mark":{"type":"line","color":"#222222","strokeWidth":1.6}},
{"data":{"values":[{"t":0.976,"v":1.925},{"t":0.976,"v":-2.345}]},"mark":{"type":"line","color":"#f03010","strokeWidth":1,"strokeDash":[4,2,1,2]}},
{"data":{"values":[{"t":0.976,"v":1.925},{"t":0.976,"v":-2.277}]},"mark":{"type":"line","color":"#f03010","strokeWidth":4.5,"strokeDash":[9,5]}},
{"data":{"values":[{"t":0.004,"t2":1.488,"v":-2.277,"v2":1.925}]},"mark":{"type":"rect","fillOpacity":0,"stroke":"black","strokeWidth":4.5,"strokeDash":[10,9.5]},"encoding":{"x2":{"field":"t2"},"y2":{"field":"v2"}}},
{"data":{"values":[{"t":1.19,"v":1.84},{"t":1.1,"v":-2.12}]},"mark":{"type":"point","filled":false,"shape":"circle","stroke":"#f02a10","strokeWidth":3.5,"opacity":1,"size":90}},
{"data":{"values":[{"t":1,"v":2.19,"label":"Average ERP across 42 subjects, ITD = 540 us"}]},"mark":{"type":"text","font":"DejaVu Sans","fontSize":23.8,"color":"#222"},"encoding":{"text":{"field":"label"}}},
{"data":{"values":[{"t":-1.75,"v":2.3,"label":"B"}]},"mark":{"type":"text","font":"Liberation Sans","fontSize":27,"color":"#333"},"encoding":{"text":{"field":"label"}}}
]},
{"encoding":{"x":{"field":"t","type":"quantitative","scale":{"domain":[-0.5,2.5],"range":[210,717]},"axis":{"orient":"bottom","offset":-454,"values":[-0.5,0,0.5,1,1.5,2,2.5],"labelExpr":"datum.value==2?'2.0':''+datum.value","title":null,"labelFontSize":25,"labelPadding":0}},"y":{"field":"f","type":"quantitative","stack":null,"scale":{"domain":[-0.7,48.66],"range":[1054,717]},"axis":{"orient":"left","offset":-210,"values":[0,9,18,27,36,45],"labelExpr":"datum.value==0?'1':''+datum.value","title":"Frequency [Hz]","labelFontSize":23,"titleFontSize":22.5,"titlePadding":3,"titleY":893}},
"color":{"field":"c","type":"quantitative","scale":{"domain":[0,0.0475,0.1425,0.2375,0.3325,0.38],"range":["#00007f","#0000ff","#00ffff","#ffff00","#ff0000","#7f0000"],"interpolate":"rgb"},"legend":null}},
"layer":[
{"data":{"name":"heatStrips"},"mark":{"type":"rect"},"encoding":{"x2":{"field":"t2"},"y2":{"field":"f2"}}},
{"data":{"name":"bandCells"},"mark":{"type":"rect","width":9,"height":7.4}},
{"data":{"name":"blobCells"},"mark":{"type":"rect","width":9,"height":10.8}},
{"data":{"values":[{"t":-0.47,"t2":2.476,"f":0.2,"f2":19.7}]},"mark":{"type":"rect","fillOpacity":0,"stroke":"black","strokeWidth":5,"strokeDash":[14,13.5]},"encoding":{"x2":{"field":"t2"},"y2":{"field":"f2"},"color":{"value":null}}},
{"data":{"values":[{"t":0.997,"f":50.7,"label":"ITC: averaged across 42 subjects, ITD = 540 us"}]},"mark":{"type":"text","font":"DejaVu Sans","fontSize":24.6},"encoding":{"text":{"field":"label"},"color":{"value":"#222"}}},
{"data":{"values":[{"t":-1.66,"f":52.9,"label":"C"}]},"mark":{"type":"text","font":"Liberation Sans","fontSize":27},"encoding":{"text":{"field":"label"},"color":{"value":"#333"}}}
]},
{"data":{"name":"colorbar"},"mark":{"type":"rect"},"encoding":{"x":{"datum":0,"type":"quantitative","scale":{"domain":[0,1],"range":[750,767]},"axis":null},"x2":{"datum":1},"y":{"field":"c","type":"quantitative","stack":null,"scale":{"domain":[0,0.38],"range":[1052,717]},"axis":{"orient":"right","offset":-61,"values":[0,0.05,0.1,0.15,0.2,0.25,0.3,0.35],"format":".2f","title":null,"tickSize":0,"labelPadding":6,"labelFontSize":23}},"y2":{"field":"c2"},"color":{"field":"c","type":"quantitative","scale":{"domain":[0,0.0475,0.1425,0.2375,0.3325,0.38],"range":["#00007f","#0000ff","#00ffff","#ffff00","#ff0000","#7f0000"],"interpolate":"rgb"},"legend":null}}},
{"encoding":{"x":{"field":"t","type":"quantitative","scale":{"domain":[-0.653,2.648],"range":[193.3,729.3]},"axis":{"orient":"bottom","offset":-85,"values":[-0.5,0,0.5,1,1.5,2,2.5],"format":".1f","title":"Time [s]","labelFontSize":24.5,"labelPadding":2,"titleFontSize":28,"titlePadding":17}},"y":{"field":"v","type":"quantitative","stack":null,"scale":{"domain":[-0.113,1.053],"range":[1423,1141]},"axis":{"orient":"left","offset":-193.3,"values":[0,0.2,0.4,0.6,0.8,1],"format":".1f","title":"Normalized ITC re: onset","labelFontSize":24.5,"labelPadding":7,"titlePadding":0}}},
"layer":[
{"data":{"values":[{"t":-0.653,"t2":2.648,"v":-0.113,"v2":1.053}]},"mark":{"type":"rect","fillOpacity":0,"stroke":"#999999","strokeWidth":1.5},"encoding":{"x2":{"field":"t2"},"y2":{"field":"v2"}}},
{"data":{"name":"itc"},"transform":[{"fold":["avg","itd20","itd60","itd180","itd540"],"as":["series","v"]}],"mark":{"type":"line","strokeWidth":1.8,"interpolate":"monotone"},"encoding":{"color":{"field":"series","type":"nominal","sort":null,"scale":{"domain":["avg","itd20","itd60","itd180","itd540"],"range":["#1f77b4","#ff7f0e","#2ca02c","#d62728","#9467bd"]},"legend":{"orient":"none","legendX":535,"legendY":1148,"title":null,"symbolType":"M-0.71,0L0.71,0","symbolSize":361,"symbolStrokeWidth":1.8,"symbolOffset":9,"labelOffset":13,"labelFont":"DejaVu Sans","labelFontSize":13,"labelColor":"#222","rowPadding":0.5,"padding":0,"labelExpr":"{avg:'Avg across conditions',itd20:'ITD = 20 us',itd60:'ITD = 60 us',itd180:'ITD = 180 us',itd540:'ITD = 540 us'}[datum.label]"}}}},
{"data":{"values":[{"t":1.451,"t2":2.608,"v":0.615,"v2":1.025}]},"mark":{"type":"rect","fill":"white","stroke":"#e0e0e0","strokeWidth":1,"cornerRadius":3},"encoding":{"x2":{"field":"t2"},"y2":{"field":"v2"}}},
{"data":{"values":[{"t":1.13,"v":1.41},{"t":1.13,"v":1.2}]},"mark":{"type":"line","color":"black","strokeWidth":5,"strokeDash":[10,7]}},
{"data":{"values":[{"t":1.13,"v":1.15}]},"mark":{"type":"point","shape":"triangle-down","filled":true,"color":"black","opacity":1,"size":800}},
{"data":{"values":[{"t":-1.757,"v":1.132,"label":"D"}]},"mark":{"type":"text","font":"Liberation Sans","fontSize":27,"color":"#333"},"encoding":{"text":{"field":"label"}}}
]}
],
"resolve":{"scale":{"x":"independent","y":"independent","color":"independent"},"axis":{"x":"independent","y":"independent"},"legend":{"color":"independent"}}
}
